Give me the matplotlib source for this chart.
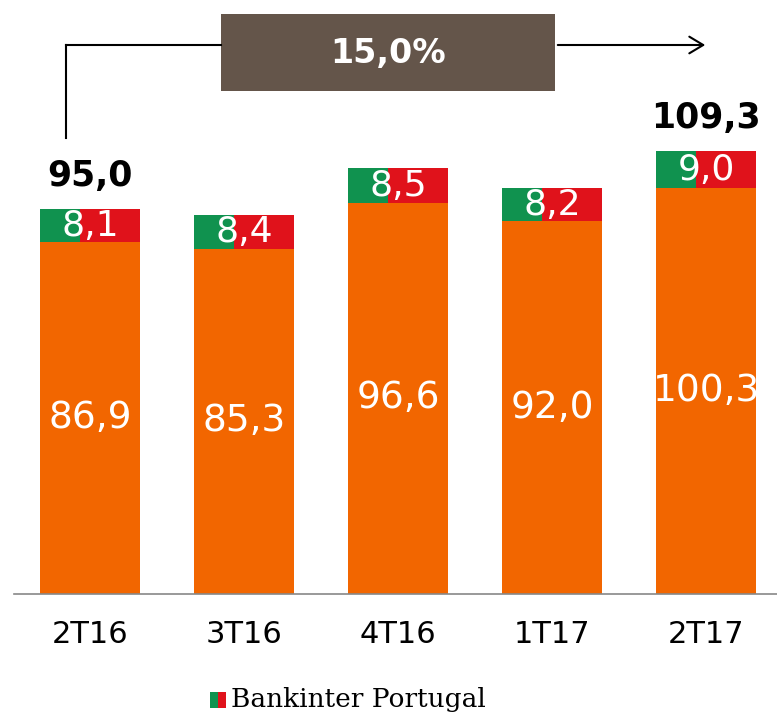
import matplotlib
matplotlib.use("Agg")
import matplotlib.pyplot as plt
from matplotlib.patches import Rectangle, FancyArrowPatch
from matplotlib.lines import Line2D

categories = ["2T16", "3T16", "4T16", "1T17", "2T17"]
base_values = [86.9, 85.3, 96.6, 92.0, 100.3]
portugal_values = [8.1, 8.4, 8.5, 8.2, 9.0]
totals = [95.0, None, None, None, 109.3]
growth_label = "15,0%"
legend_label = "Bankinter Portugal"

ORANGE = "#F26600"
GREEN = "#10924F"
RED = "#E0121B"
BROWN = "#64554A"

W, H = 777, 714
fig = plt.figure(figsize=(W / 100, H / 100), dpi=100)
fig.patch.set_facecolor("white")

def fx(px):
    return px / W

def fy(py):
    return 1 - py / H

base_px = 594
ax = fig.add_axes([fx(14), fy(base_px), fx(777) - fx(14), fy(0) - fy(base_px)])
px_per_unit = 4.05
ax.set_ylim(0, base_px / px_per_unit)
ax.set_xlim(-0.494, 4.461)

x = list(range(len(categories)))
bw = 0.65
gw = bw * 0.40

ax.bar(x, base_values, width=bw, color=ORANGE, zorder=2)
left = [xi - bw / 2 for xi in x]
ax.bar(left, portugal_values, bottom=base_values, width=gw, align="edge", color=GREEN, zorder=2)
ax.bar([l + gw for l in left], portugal_values, bottom=base_values, width=bw - gw,
       align="edge", color=RED, zorder=2)

fmt = lambda v: f"{v:.1f}".replace(".", ",")
for xi, b, p, t in zip(x, base_values, portugal_values, totals):
    ax.text(xi, b / 2, fmt(b), ha="center", va="center", color="white", fontsize=27, zorder=3)
    ax.text(xi, b + p / 2, fmt(p), ha="center", va="center", color="white", fontsize=26, zorder=3)
    if t is not None:
        ax.text(xi, b + p + 4, fmt(t), ha="center", va="bottom", color="black",
                fontsize=25, fontweight="bold", zorder=3)

ax.set_xticks(x)
ax.set_xticklabels(categories, fontsize=22)
ax.tick_params(axis="x", length=0, pad=19)
ax.set_yticks([])
for s in ["left", "right", "top"]:
    ax.spines[s].set_visible(False)
ax.spines["bottom"].set_color("#888888")
ax.spines["bottom"].set_linewidth(1.2)

# growth arrow
fig.add_artist(Line2D([fx(66), fx(66)], [fy(138), fy(45)], color="black", lw=1.5))
fig.add_artist(Line2D([fx(66), fx(221)], [fy(45), fy(45)], color="black", lw=1.5))
arr = FancyArrowPatch((fx(555), fy(45)), (fx(708), fy(45)), transform=fig.transFigure,
                      arrowstyle="->,head_length=10,head_width=6", color="black", lw=1.5)
fig.add_artist(arr)
fig.add_artist(Rectangle((fx(221), fy(91)), fx(555) - fx(221), fy(14) - fy(91),
                         transform=fig.transFigure, facecolor=BROWN, edgecolor="none"))
fig.text(fx(388), fy(53), growth_label, ha="center", va="center", color="white",
         fontsize=24, fontweight="bold")

# legend
fig.add_artist(Rectangle((fx(210), fy(708)), fx(8), fy(692) - fy(708),
                         transform=fig.transFigure, facecolor=GREEN, edgecolor="none"))
fig.add_artist(Rectangle((fx(218), fy(708)), fx(8), fy(692) - fy(708),
                         transform=fig.transFigure, facecolor=RED, edgecolor="none"))
fig.text(fx(231), fy(700), legend_label, ha="left", va="center", color="black",
         fontsize=19, family="DejaVu Serif")

fig.savefig("out.png", dpi=100)
